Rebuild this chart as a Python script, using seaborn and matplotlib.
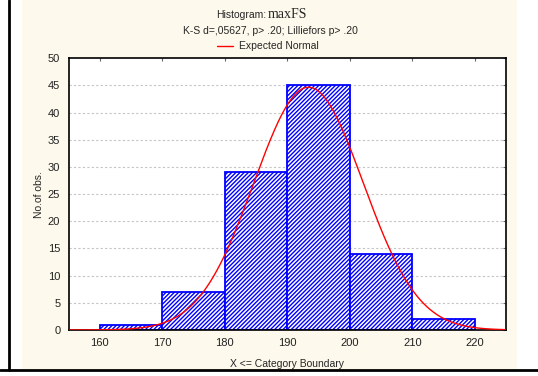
import numpy as np
import pandas as pd
import matplotlib
matplotlib.use("Agg")
import matplotlib.pyplot as plt
from matplotlib.lines import Line2D
from matplotlib.patches import Rectangle
import seaborn as sns

# ------------------------------------------------------------
# Data
# ------------------------------------------------------------
bin_edges = [160, 170, 180, 190, 200, 210, 220]
counts = [1, 7, 29, 45, 14, 2]
# fitted normal (expected counts per 10-unit class)
fit_mean = 193.4
fit_sd = 8.75
n_obs = sum(counts)
bin_width = 10

x_ticks = [160, 170, 180, 190, 200, 210, 220]
y_ticks = [0, 5, 10, 15, 20, 25, 30, 35, 40, 45, 50]

df = pd.DataFrame({
    "mid": [(a + b) / 2 for a, b in zip(bin_edges[:-1], bin_edges[1:])],
    "count": counts,
})

sns.set_style("white")
plt.rcParams["font.family"] = ["Liberation Sans", "DejaVu Sans"]
plt.rcParams["hatch.color"] = "#0000ff"
plt.rcParams["hatch.linewidth"] = 1.0

fig = plt.figure(figsize=(5.38, 3.76), dpi=100)
fig.patch.set_facecolor("white")

# cream panel + black frame lines like the original export
fig.add_artist(Rectangle((22 / 538, 1 - 370 / 376), (517 - 22) / 538, 370 / 376,
                         transform=fig.transFigure, facecolor="#fdf9ec",
                         edgecolor="none", zorder=-10))
fig.add_artist(Line2D([9 / 538, 9 / 538], [1 - 370 / 376, 1], transform=fig.transFigure,
                      color="black", lw=2))
fig.add_artist(Line2D([0, 1], [1 - 370 / 376, 1 - 370 / 376], transform=fig.transFigure,
                      color="black", lw=2))

ax = fig.add_axes([0.1275, 0.1223, 0.8130, 0.7227])
ax.set_facecolor("white")

sns.histplot(data=df, x="mid", weights="count", bins=bin_edges, ax=ax,
             color="white", edgecolor="#0000ff", linewidth=1.3, alpha=1,
             hatch="////////", zorder=2)

# expected normal curve
xs = np.linspace(155, 225, 400)
ys = n_obs * bin_width * np.exp(-0.5 * ((xs - fit_mean) / fit_sd) ** 2) / (fit_sd * np.sqrt(2 * np.pi))
sns.lineplot(x=xs, y=ys, ax=ax, color="#ff0000", lw=1.0, zorder=3)

ax.set_xlim(155, 225)
ax.set_ylim(0, 50)
ax.set_xticks(x_ticks)
ax.set_yticks(y_ticks)
ax.tick_params(axis="both", labelsize=8, length=0, pad=6, colors="#222222")
ax.tick_params(axis="x", top=True, direction="in", length=2, color="#666666")
ax.tick_params(axis="y", right=True, direction="in", length=2, color="#666666")
ax.tick_params(axis="x", bottom=False)
ax.tick_params(axis="y", left=False)
for lab in ax.get_xticklabels() + ax.get_yticklabels():
    lab.set_color("#222222")

for yv in y_ticks[1:-1]:
    ax.axhline(yv, color="#c4c4c4", lw=0.8, ls=(0, (2, 2)), zorder=1)

for s in ax.spines.values():
    s.set_color("black")
    s.set_linewidth(1.2)

ax.set_xlabel("X <= Category Boundary", fontsize=7.5, labelpad=8)
ax.set_ylabel("No.of obs.", fontsize=7.5, labelpad=3)

# title block
split_x = 266 / 538
fig.text(split_x, 1 - 15 / 376, "Histogram:", ha="right", va="center", fontsize=7.5)
fig.text(split_x + 2 / 538, 1 - 15 / 376, "maxFS", ha="left", va="center", fontsize=10,
         family=["Liberation Serif", "DejaVu Serif"])
fig.text(270 / 538, 1 - 31.5 / 376, "K-S d=,05627, p> .20; Lilliefors p> .20", ha="center",
         va="center", fontsize=7.5)
fig.add_artist(Line2D([217 / 538, 233 / 538], [1 - 46 / 376, 1 - 46 / 376],
                      transform=fig.transFigure, color="#ff0000", lw=1))
fig.text(239 / 538, 1 - 46 / 376, "Expected Normal", ha="left", va="center", fontsize=7.5)

plt.savefig("out.png", dpi=100, facecolor=fig.get_facecolor())
